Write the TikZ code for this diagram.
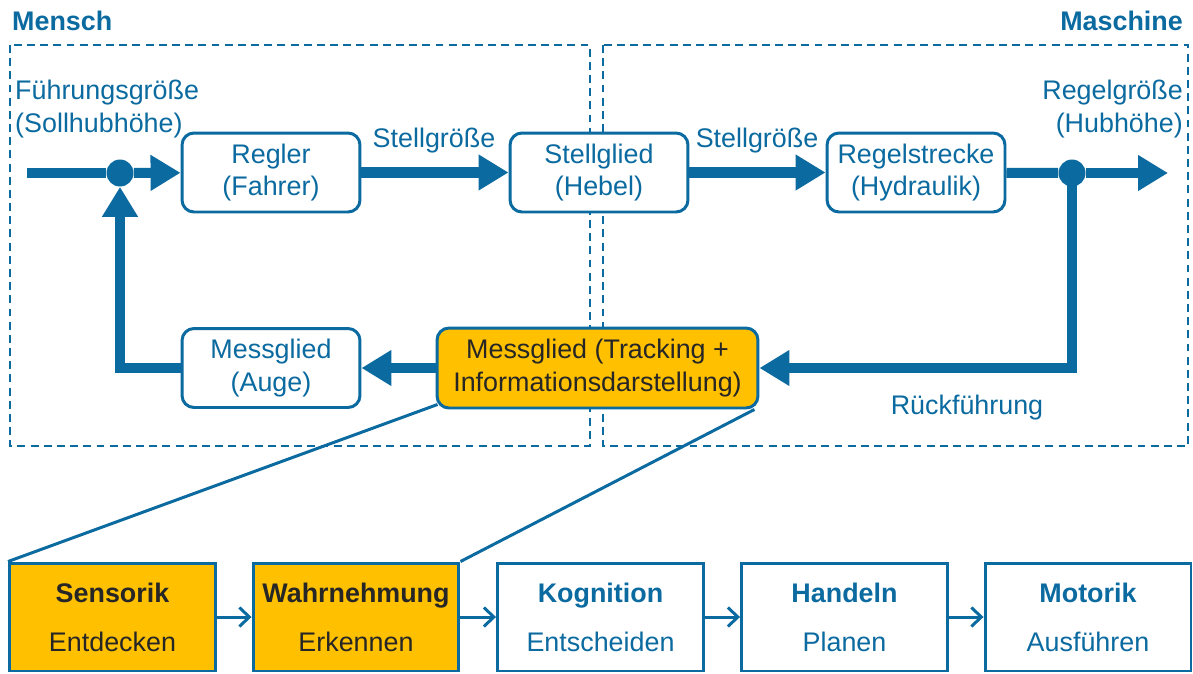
\documentclass[tikz,border=0pt]{standalone}
\usepackage{fontspec}
\setmainfont{Liberation Sans}
\usetikzlibrary{arrows.meta}
\definecolor{loopblue}{RGB}{11,106,159}
\definecolor{trackorange}{RGB}{255,192,0}
\definecolor{darktext}{RGB}{38,38,38}
\begin{document}
\begin{tikzpicture}[x=0.02cm, y=-0.02cm,
    font=\fontsize{15.3}{18.4}\selectfont,
    zone/.style={draw=loopblue, line width=1.4pt, dash pattern=on 4.5pt off 3pt},
    block/.style={rectangle, rounded corners=0.24cm, draw=loopblue, line width=1.7pt, fill=white,
      text=loopblue, align=center, minimum width=3.56cm, minimum height=1.58cm, inner sep=2pt},
    stage/.style={rectangle, draw=loopblue, line width=1.7pt, fill=white, text=loopblue,
      align=center, minimum width=4.12cm, minimum height=2.16cm, inner sep=2pt},
    sum/.style={circle, fill=loopblue, minimum size=0.54cm, inner sep=0pt},
    signal/.style={draw=loopblue, line width=5.7pt},
    flow/.style={signal, -{Triangle[length=0.6cm, width=0.68cm]}},
    thinflow/.style={draw=loopblue, line width=1.7pt, -{Straight Barb[length=0.2cm, width=0.38cm]}},
    label/.style={text=loopblue}]
        \useasboundingbox (0,0) rectangle (1193,673);

        \draw[zone] (10,45) rectangle (590,446);
        \draw[zone] (603,45) rectangle (1188,446);
        \node[label, anchor=west, font=\fontsize{15.3}{18.4}\selectfont\bfseries] (mensch) at(6,21){Mensch};
        \node[label, anchor=east, font=\fontsize{15.3}{18.4}\selectfont\bfseries] (maschine) at(1189,21){Maschine};

        \node[block] (regler) at(271,172.5){Regler\\(Fahrer)};
        \node[block] (stell-glied) at(599,172.5){Stellglied\\(Hebel)};
        \node[block] (strecke) at(916,172.5){Regelstrecke\\(Hydraulik)};
        \node[block] (mess-auge) at(271,368){Messglied\\(Auge)};
        \node[block, fill=trackorange, text=darktext, minimum width=6.42cm, minimum height=1.6cm] (mess-tracking) at(597.5,368){Messglied (Tracking +\\Informationsdarstellung)};

        \node[sum] (sum-left) at(120,173){};
        \node[sum] (sum-right) at(1072,173){};
        \coordinate (input) at(27,173);
        \coordinate (output) at(1168,173);

        \node[label, anchor=west, align=left] (fuehrung) at(9,109){Führungsgröße\\(Sollhubhöhe)};
        \node[label, anchor=east, align=right] (regelgroesse) at(1189,109){Regelgröße\\(Hubhöhe)};
        \node[label] (stell-1) at(434,141){Stellgröße};
        \node[label] (stell-2) at(757,141){Stellgröße};
        \node[label] (rueck) at(967,408){Rückführung};

        \draw[signal] (input) -- (sum-left);
        \draw[flow] (sum-left) -- (regler);
        \draw[flow] (regler) -- (stell-glied);
        \draw[flow] (stell-glied) -- (strecke);
        \draw[signal] (strecke) -- (sum-right);
        \draw[flow] (sum-right) -- (output);
        \draw[flow] (sum-right.center) |- (mess-tracking.east);
        \draw[flow] (mess-tracking) -- (mess-auge);
        \draw[flow] (mess-auge.west) -| (sum-left.south);

        \node[stage, fill=trackorange, text=darktext] (sensorik) at(112.5,617){\textbf{Sensorik}\\[9.4pt]Entdecken};
        \node[stage, fill=trackorange, text=darktext] (wahrnehmung) at(356,617){\textbf{Wahrnehmung}\\[9.4pt]Erkennen};
        \node[stage] (kognition) at(600.5,617){\textbf{Kognition}\\[9.4pt]Entscheiden};
        \node[stage] (handeln) at(844.5,617){\textbf{Handeln}\\[9.4pt]Planen};
        \node[stage] (motorik) at(1088,617){\textbf{Motorik}\\[9.4pt]Ausführen};

        \draw[thinflow] (sensorik) -- (wahrnehmung);
        \draw[thinflow] (wahrnehmung) -- (kognition);
        \draw[thinflow] (kognition) -- (handeln);
        \draw[thinflow] (handeln) -- (motorik);

        \draw[draw=loopblue, line width=1.7pt] ([xshift=0.04cm, yshift=0.1cm]mess-tracking.south west) -- (sensorik.north west);
        \draw[draw=loopblue, line width=1.7pt] ([xshift=-0.1cm]mess-tracking.south east) -- (wahrnehmung.north east);

      \end{tikzpicture}
\end{document}
